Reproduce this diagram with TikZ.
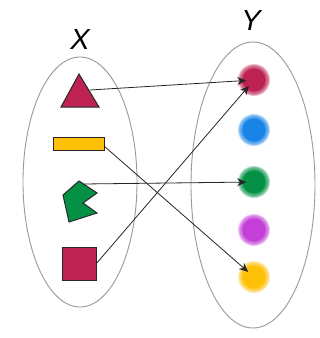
\documentclass[tikz,border=0pt]{standalone}
\usepackage{fontspec}
\setmainfont{Liberation Sans}
\usetikzlibrary{arrows.meta}
\definecolor{crim}{RGB}{190,34,82}
\definecolor{yel}{RGB}{255,193,7}
\definecolor{grn}{RGB}{4,145,70}
\definecolor{blu}{RGB}{24,132,232}
\definecolor{pur}{RGB}{196,62,216}
\definecolor{outl}{RGB}{40,40,40}
\tikzset{
  setline/.style={draw=black!40, line width=0.9pt},
  shapeobj/.style={draw=outl, line width=1pt, line join=miter},
  dotnode/.style={circle, inner sep=0pt, minimum size=15pt},
  mapping/.style={draw=black!85, line width=0.8pt, -{Stealth[length=9pt,width=8pt]}},
  setlabel/.style={font=\fontsize{29}{29}\selectfont\itshape, inner sep=0pt}
}
\newcommand{\blob}[2]{%
  \foreach \r in {16,15,...,12} \fill[#2, opacity=0.3] (#1) circle (\r);
  \fill[#2] (#1) circle (11.5);}
\begin{document}
\begin{tikzpicture}[x=1pt,y=-1pt]
\useasboundingbox (0,0) rectangle (320,338);
\fill[white] (0,0) rectangle (320,338);
% sets
\draw[setline] (80,182) ellipse [x radius=57, y radius=125];
\draw[setline] (253,185) ellipse [x radius=62, y radius=143];
\node[setlabel] (lx) at (80,40) {X};
\node[setlabel] (ly) at (251,21) {Y};
% codomain dots
\node[dotnode] (dr) at (254,80) {};
\node[dotnode] (db) at (254,130) {};
\node[dotnode] (dg) at (254,182) {};
\node[dotnode] (dp) at (254,230) {};
\node[dotnode] (dy) at (254,277) {};
\blob{dr}{crim}
\blob{db}{blu}
\blob{dg}{grn}
\blob{dp}{pur}
\blob{dy}{yel}
% domain shapes
\fill[crim, shapeobj] (79,74) -- (61,107) -- (99,107) -- cycle;
\fill[yel, shapeobj] (53,137) rectangle (104,150);
\fill[grn, shapeobj] (79,181) -- (97,193) -- (83,203) -- (97,213) -- (69,222) -- (63,195) -- cycle;
\fill[crim, shapeobj] (62,247) rectangle (96,280);
\coordinate (tri) at (90,90);
\coordinate (rec) at (104,146);
\coordinate (pac) at (83,184);
\coordinate (squ) at (96,264);
% mappings
\draw[mapping] (tri) -- (dr);
\draw[mapping] (rec) -- (dy);
\draw[mapping] (pac) -- (dg);
\draw[mapping] (squ) -- (dr);
\end{tikzpicture}
\end{document}
